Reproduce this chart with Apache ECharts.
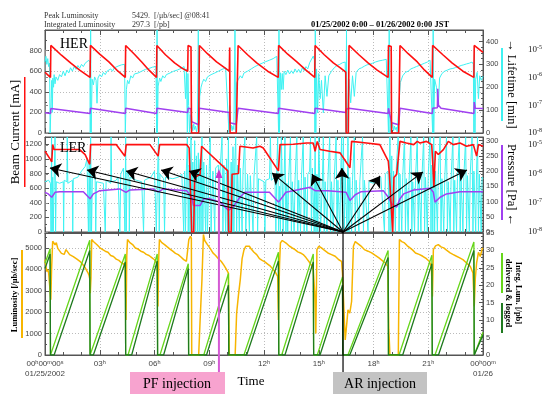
<!DOCTYPE html>
<html><head><meta charset="utf-8">
<script src="https://cdn.jsdelivr.net/npm/echarts@6/dist/echarts.min.js"></script>
<style>html,body{margin:0;padding:0;background:#fff}#c{width:549px;height:394px}</style>
</head><body><div id="c"></div>
<script>
// ---------------- data (hours since 01/25/2002 0:00) ----------------
const herCurrent = [[0,590],[0.15,565],[0.3,540],[0.32,850],[0.9,755],[1.4,680],[1.9,610],[2.47,540],[2.49,850],[3.0,765],[3.5,690],[4.0,600],[4.4,540],[4.42,850],[4.9,765],[5.3,690],[5.7,610],[6.11,540],[6.13,850],[6.6,760],[7.1,680],[7.5,630],[7.82,600],[7.84,850],[8.0,835],[8.03,0],[8.42,0],[8.46,850],[8.9,770],[9.4,690],[9.8,640],[10.1,600],[10.12,830],[10.14,0],[10.48,0],[10.58,850],[11.1,760],[11.6,680],[12.2,600],[12.78,540],[12.8,850],[13.3,765],[13.8,690],[14.3,610],[14.78,540],[14.8,850],[15.3,760],[15.8,680],[16.2,630],[16.48,590],[16.5,0],[16.62,0],[16.66,850],[17.2,760],[17.7,680],[18.2,610],[18.8,540],[18.82,850],[18.97,840],[18.99,0],[19.38,0],[19.45,850],[19.9,770],[20.4,690],[20.8,610],[21.22,540],[21.24,850],[21.8,760],[22.3,680],[22.9,600],[23.5,540],[23.52,850],[24,783]];
const herPressure = [[0,196],[0.3,190],[0.32,238],[2.47,190],[2.49,240],[4.4,190],[4.42,240],[6.11,190],[6.13,240],[7.82,200],[7.84,240],[8.0,235],[8.03,110],[8.42,80],[8.46,240],[10.1,200],[10.12,100],[10.48,85],[10.58,240],[12.78,190],[12.8,240],[14.78,190],[14.8,240],[16.48,200],[16.5,230],[16.66,240],[18.8,190],[18.82,240],[18.99,100],[19.38,80],[19.45,240],[21.22,190],[21.24,240],[21.5,245],[21.52,430],[21.56,270],[21.7,240],[23.5,190],[23.52,300],[23.58,240],[24,238]];
const herLifetime = [[0,310],[0.05,335],[0.1,300],[0.15,325],[0.2,290],[0.25,305],[0.28,0],[0.31,0],[0.34,150],[0.37,230],[0.4,90],[0.43,240],[0.47,200],[0.5,255],[0.55,215],[0.6,245],[0.7,230],[0.8,255],[0.9,245],[1.0,270],[1.1,250],[1.2,275],[1.3,262],[1.4,285],[1.5,270],[1.6,290],[1.7,278],[1.8,295],[1.9,283],[2.0,300],[2.1,290],[2.2,305],[2.3,298],[2.4,318],[2.46,308],[2.48,0],[2.5,450],[2.53,0],[2.58,235],[2.65,210],[2.72,245],[2.8,230],[2.85,130],[2.9,240],[3.0,255],[3.1,245],[3.2,265],[3.3,255],[3.4,270],[3.5,262],[3.6,280],[3.7,270],[3.8,285],[3.9,278],[4.0,292],[4.1,285],[4.2,298],[4.3,290],[4.36,300],[4.4,0],[4.43,0],[4.46,190],[4.52,230],[4.6,215],[4.7,250],[4.8,240],[4.9,258],[5.0,250],[5.1,262],[5.2,255],[5.3,270],[5.4,262],[5.5,278],[5.6,270],[5.7,282],[5.8,276],[5.9,288],[6.0,282],[6.08,290],[6.12,0],[6.14,450],[6.16,0],[6.2,205],[6.28,240],[6.35,225],[6.45,250],[6.55,240],[6.65,255],[6.75,248],[6.85,262],[6.95,255],[7.05,270],[7.15,262],[7.25,275],[7.35,268],[7.45,282],[7.55,276],[7.62,290],[7.7,150],[7.75,280],[7.8,0],[7.83,260],[7.87,120],[7.92,0],[7.96,80],[8.0,20],[8.05,35],[8.1,10],[8.15,40],[8.2,15],[8.25,30],[8.3,5],[8.35,25],[8.4,450],[8.44,0],[8.48,160],[8.55,200],[8.62,220],[8.7,235],[8.8,225],[8.9,245],[9.0,240],[9.1,255],[9.2,250],[9.3,262],[9.4,256],[9.5,270],[9.6,265],[9.7,278],[9.8,272],[9.9,285],[10.0,290],[10.08,0],[10.12,120],[10.16,20],[10.2,35],[10.25,10],[10.3,30],[10.35,15],[10.41,450],[10.45,0],[10.5,220],[10.6,235],[10.7,250],[10.8,240],[10.9,262],[11.0,255],[11.1,270],[11.2,262],[11.3,280],[11.4,274],[11.5,290],[11.6,283],[11.7,298],[11.8,292],[11.9,305],[12.0,298],[12.1,312],[12.2,305],[12.3,318],[12.4,312],[12.5,325],[12.6,320],[12.7,335],[12.77,330],[12.8,0],[12.82,450],[12.85,0],[12.9,263],[12.95,190],[13.0,260],[13.05,190],[13.1,270],[13.2,255],[13.3,275],[13.4,258],[13.5,272],[13.6,260],[13.7,280],[13.8,265],[13.9,278],[14.0,262],[14.1,285],[14.2,272],[14.3,290],[14.4,280],[14.5,307],[14.6,300],[14.7,336],[14.76,320],[14.79,0],[14.81,450],[14.84,0],[14.88,280],[14.94,88],[15.0,260],[15.08,150],[15.15,230],[15.25,88],[15.35,250],[15.45,160],[15.55,250],[15.7,270],[15.85,285],[16.0,295],[16.15,300],[16.3,307],[16.45,310],[16.5,0],[16.52,450],[16.55,0],[16.65,235],[16.75,132],[16.85,250],[16.95,160],[17.05,265],[17.2,280],[17.35,285],[17.5,292],[17.65,298],[17.8,300],[17.95,305],[18.1,310],[18.3,315],[18.5,318],[18.7,322],[18.78,320],[18.82,0],[18.86,450],[18.9,0],[18.95,60],[19.0,20],[19.05,40],[19.1,10],[19.15,30],[19.2,15],[19.25,25],[19.3,5],[19.4,0],[19.47,220],[19.6,250],[19.75,265],[19.9,270],[20.05,280],[20.2,285],[20.35,290],[20.5,295],[20.65,300],[20.8,305],[20.95,310],[21.1,318],[21.2,322],[21.24,0],[21.27,450],[21.3,0],[21.35,235],[21.45,200],[21.55,116],[21.62,240],[21.75,260],[21.9,270],[22.05,275],[22.2,280],[22.35,282],[22.5,286],[22.65,290],[22.8,295],[22.95,298],[23.1,302],[23.25,305],[23.4,310],[23.47,300],[23.5,0],[23.53,380],[23.56,0],[23.6,235],[23.68,265],[23.75,150],[23.82,250],[23.9,230],[24,248]];

const lerCurrent = [[0,1105],[0.3,990],[0.37,960],[0.42,1196],[0.5,1130],[0.6,1120],[1.9,1128],[2.2,1060],[2.45,926],[2.5,1196],[3.9,1196],[4.38,1038],[4.45,1196],[5.75,1196],[6.2,1038],[6.28,1196],[7.76,1196],[7.9,1150],[8.0,1150],[8.04,0],[8.15,0],[8.2,745],[8.5,790],[8.58,1173],[10.02,836],[10.06,0],[10.2,0],[10.25,790],[10.6,800],[10.68,1173],[11.4,1150],[11.78,1173],[11.96,1150],[12.79,836],[12.88,1196],[13.6,1200],[14.34,1217],[14.7,1217],[14.8,1105],[14.92,1240],[15.07,1128],[15.6,1105],[16.17,1083],[16.71,880],[16.8,1240],[17.62,1217],[18.35,1196],[18.81,971],[18.87,791],[18.94,813],[19.05,0],[19.12,745],[19.27,791],[19.45,1240],[19.8,1217],[20.2,1196],[20.4,1240],[20.55,1217],[20.9,1240],[21.19,1196],[21.24,971],[21.31,611],[21.39,1105],[21.55,1060],[21.83,1128],[22.1,1240],[22.37,1196],[22.74,1217],[23.1,1173],[23.47,1196],[23.65,1038],[23.75,1196],[24,1173]];
const lerPressure = [[0,543],[0.18,521],[0.37,476],[0.55,543],[0.8,550],[2.1,550],[2.47,454],[2.65,521],[3.0,566],[4.1,589],[4.44,543],[4.65,575],[5.9,589],[6.2,550],[6.5,589],[7.76,566],[8.04,476],[8.13,364],[8.5,364],[8.7,454],[9.0,454],[9.6,409],[10.05,297],[10.3,341],[10.68,476],[10.96,543],[11.6,543],[12.3,543],[12.79,409],[13.0,476],[13.2,543],[13.8,575],[14.52,611],[14.8,566],[15.5,566],[16.5,543],[16.71,431],[17.0,510],[17.3,550],[18.54,566],[18.81,476],[19.0,386],[19.27,341],[19.45,454],[19.65,521],[20.2,575],[21.1,600],[21.28,543],[21.37,409],[21.65,476],[22.0,521],[22.74,550],[24,550]];
const lerLifetime = [[0,165],[0.1,160],[0.2,170],[0.3,160],[0.33,0],[0.36,312],[0.39,0],[0.42,180],[0.45,0],[0.5,170],[0.55,312],[0.58,0],[0.62,165],[0.8,160],[1.0,165],[1.02,0],[1.05,170],[1.2,165],[1.22,312],[1.25,160],[1.5,170],[1.52,0],[1.55,175],[1.8,180],[2.0,200],[2.2,215],[2.3,240],[2.38,0],[2.42,230],[2.47,0],[2.5,312],[2.55,0],[2.6,200],[2.75,170],[2.78,0],[2.82,165],[3.2,160],[3.3,0],[3.35,170],[3.6,160],[3.62,312],[3.65,165],[3.9,170],[4.0,180],[4.1,0],[4.15,190],[4.3,210],[4.38,0],[4.42,312],[4.45,0],[4.5,200],[4.6,180],[4.62,0],[4.66,180],[5.0,170],[5.3,165],[5.4,0],[5.45,170],[5.8,180],[6.0,200],[6.1,0],[6.18,220],[6.22,312],[6.26,0],[6.3,190],[6.5,175],[6.55,0],[6.6,180],[7.0,175],[7.3,180],[7.5,190],[7.6,0],[7.65,200],[7.7,0],[7.75,210],[7.8,312],[7.85,0],[7.9,220],[7.95,0],[8.0,312],[8.05,0],[8.1,230],[8.15,0],[8.2,300],[8.25,0],[8.3,250],[8.35,0],[8.4,260],[8.45,0],[8.5,240],[8.55,0],[8.6,312],[8.65,0],[8.7,230],[8.8,0],[8.85,220],[8.9,0],[9.0,210],[9.05,312],[9.1,0],[9.2,200],[9.3,0],[9.35,210],[9.5,220],[9.55,0],[9.6,210],[9.7,312],[9.75,0],[9.8,220],[9.9,0],[9.95,240],[10.0,0],[10.05,312],[10.1,0],[10.2,230],[10.25,0],[10.3,280],[10.35,0],[10.4,230],[10.45,312],[10.5,0],[10.55,220],[10.65,0],[10.7,210],[10.8,0],[10.85,200],[10.95,312],[11.0,0],[11.1,190],[11.2,0],[11.25,185],[11.4,0],[11.45,180],[11.6,312],[11.65,0],[11.7,175],[11.8,170],[12.0,165],[12.05,0],[12.1,170],[12.3,175],[12.35,312],[12.4,170],[12.6,180],[12.65,0],[12.7,200],[12.75,312],[12.8,0],[12.85,150],[12.9,0],[12.95,312],[13.0,160],[13.05,0],[13.1,170],[13.15,312],[13.2,0],[13.25,160],[13.3,0],[13.35,170],[13.45,312],[13.5,0],[13.55,165],[13.65,0],[13.7,170],[13.8,312],[13.85,0],[13.9,170],[14.0,0],[14.05,175],[14.15,312],[14.2,0],[14.25,180],[14.35,0],[14.4,190],[14.5,200],[14.55,312],[14.6,0],[14.65,210],[14.75,0],[14.8,312],[14.85,0],[14.9,190],[14.95,0],[15.0,312],[15.05,180],[15.1,0],[15.2,170],[15.25,312],[15.3,0],[15.35,165],[15.45,0],[15.5,170],[15.6,312],[15.65,0],[15.7,165],[15.8,0],[15.85,175],[15.95,312],[16.0,0],[16.05,170],[16.15,0],[16.2,180],[16.25,312],[16.3,0],[16.35,312],[16.4,0],[16.45,190],[16.55,0],[16.6,312],[16.65,0],[16.7,180],[16.8,0],[16.85,170],[16.95,312],[17.0,0],[17.05,170],[17.2,0],[17.25,165],[17.4,312],[17.45,0],[17.5,170],[17.7,0],[17.75,165],[18.0,160],[18.2,170],[18.4,180],[18.6,0],[18.65,190],[18.8,200],[18.85,0],[18.9,312],[18.95,0],[19.0,250],[19.05,0],[19.1,200],[19.2,0],[19.25,210],[19.35,312],[19.4,0],[19.45,190],[19.55,0],[19.6,180],[19.7,312],[19.75,0],[19.8,175],[19.9,0],[19.95,170],[20.05,312],[20.1,0],[20.15,165],[20.25,0],[20.3,170],[20.4,312],[20.45,0],[20.5,170],[20.6,0],[20.65,175],[20.75,312],[20.8,0],[20.85,180],[20.95,0],[21.0,190],[21.1,312],[21.15,0],[21.2,220],[21.25,0],[21.3,312],[21.35,0],[21.4,200],[21.5,0],[21.55,190],[21.65,312],[21.7,0],[21.75,175],[21.85,0],[21.9,170],[22.0,312],[22.05,0],[22.1,165],[22.2,0],[22.25,170],[22.35,312],[22.4,0],[22.45,170],[22.55,0],[22.6,175],[22.7,312],[22.75,0],[22.8,175],[22.9,0],[22.95,180],[23.05,312],[23.1,0],[23.15,185],[23.25,0],[23.3,190],[23.4,312],[23.45,0],[23.5,200],[23.6,0],[23.65,210],[23.7,312],[23.75,0],[23.8,190],[23.9,0],[23.95,180],[24,175]];

const luminosity = [[0,4456],[0.05,4150],[0.1,3900],[0.15,4000],[0.2,3830],[0.25,3900],[0.28,3750],[0.32,2580],[0.36,4000],[0.42,5316],[0.48,5250],[0.55,5150],[0.62,5250],[0.7,4980],[0.8,4900],[0.9,4750],[1.0,4800],[1.05,4700],[1.15,4925],[1.25,4850],[1.35,4690],[1.45,4720],[1.55,4600],[1.65,4640],[1.75,4480],[1.85,4520],[1.95,4350],[2.05,4380],[2.15,4150],[2.25,4100],[2.35,3850],[2.42,3700],[2.46,3518],[2.48,2890],[2.52,3600],[2.56,5394],[2.65,5300],[2.75,5238],[2.85,5150],[2.95,5080],[3.05,4980],[3.15,5000],[3.3,4850],[3.45,4800],[3.6,4650],[3.75,4600],[3.9,4480],[4.05,4420],[4.2,4300],[4.32,4250],[4.4,4100],[4.44,1640],[4.48,4600],[4.52,5394],[4.65,5250],[4.8,5159],[4.95,5000],[5.1,4950],[5.25,4850],[5.4,4800],[5.55,4700],[5.7,4650],[5.85,4550],[6.0,4450],[6.1,4377],[6.15,4221],[6.19,2270],[6.23,4500],[6.27,5394],[6.4,5250],[6.55,5159],[6.7,5050],[6.85,4950],[7.0,4850],[7.15,4750],[7.3,4690],[7.45,4580],[7.6,4456],[7.75,4380],[7.84,4300],[7.88,5394],[7.97,5550],[8.02,5450],[8.04,0],[8.42,0],[8.5,1640],[8.6,3520],[8.68,5630],[8.75,5350],[8.9,5159],[9.05,4980],[9.2,4770],[9.35,4650],[9.5,4500],[9.65,4380],[9.8,4200],[9.95,3987],[10.05,3830],[10.1,0],[10.42,0],[10.5,1950],[10.6,2800],[10.7,3520],[10.8,4500],[10.9,4900],[11.0,5081],[11.1,5000],[11.2,5080],[11.3,4950],[11.45,4800],[11.6,4690],[11.75,4500],[11.9,4420],[12.05,4350],[12.2,4250],[12.35,4150],[12.5,4000],[12.65,3830],[12.75,3674],[12.79,1640],[12.85,4200],[12.9,5238],[13.0,5350],[13.1,5316],[13.25,5200],[13.4,5081],[13.55,5000],[13.7,4925],[13.85,4820],[14.0,4768],[14.15,4690],[14.3,4550],[14.45,4380],[14.6,4200],[14.7,3987],[14.78,2893],[14.84,1000],[14.9,4925],[15.0,5081],[15.15,5003],[15.3,4900],[15.5,4768],[15.7,4690],[15.9,4612],[16.1,4450],[16.25,4377],[16.3,3830],[16.35,2736],[16.45,700],[16.55,1600],[16.6,2111],[16.7,1954],[16.8,2500],[16.9,5081],[17.0,5300],[17.1,5238],[17.3,5100],[17.5,4925],[17.7,4850],[17.9,4768],[18.1,4650],[18.3,4534],[18.5,4400],[18.65,4299],[18.78,4143],[18.84,1173],[18.9,0],[19.36,0],[19.42,5394],[19.55,5300],[19.7,5238],[19.85,5100],[20.0,5003],[20.15,4900],[20.3,4768],[20.5,4700],[20.7,4612],[20.9,4500],[21.05,4377],[21.17,4143],[21.23,2736],[21.28,4925],[21.4,5100],[21.55,5159],[21.7,5050],[21.85,5003],[22.0,4900],[22.2,4768],[22.35,4700],[22.55,4612],[22.7,4550],[22.9,4456],[23.1,4300],[23.3,4143],[23.45,3830],[23.52,2267],[23.58,3600],[23.65,4299],[23.75,4800],[23.85,4600],[23.95,4950],[24,5003]];
const intDelivered = [[0,26.3],[0.28,30.5],[0.3,0],[0.37,0],[2.45,32.9],[2.47,0],[2.56,0],[4.4,29],[4.42,0],[4.55,0],[6.15,29],[6.17,0],[6.3,0],[7.85,26.2],[7.87,0],[8.7,0],[10.05,23.4],[10.07,0],[10.9,0],[12.79,29.5],[12.81,0],[12.97,0],[14.7,29],[14.72,0],[14.92,0],[16.3,22.4],[16.32,0],[16.6,0],[18.8,30],[18.82,0],[19.4,0],[21.2,28.6],[21.22,0],[21.37,0],[23.5,32.4],[23.52,0],[23.56,0],[24,6.5]];
const intLogged = [[0,24.8],[0.28,29],[0.3,0],[0.5,0],[2.45,30],[2.47,0],[2.65,0],[4.4,26.7],[4.42,0],[4.75,0],[6.15,27],[6.17,0],[6.5,0],[7.85,24.8],[7.87,0],[8.85,0],[10.05,20],[10.07,0],[11.05,0],[12.79,27],[12.81,0],[13.15,0],[14.7,26.7],[14.72,0],[15.07,0],[16.3,20],[16.32,0],[16.7,0],[18.8,28],[18.82,0],[19.6,0],[21.2,26.2],[21.22,0],[21.56,0],[23.5,30],[23.52,0],[23.6,0],[24,5.7]];

// annotations (data units: hours, LER current mA)
const arSource = [16.33, 0];
const arTargetHours = [0.27,2.3,4.44,6.36,7.89,12.44,14.63,16.27,18.36,20.71,23.12];
const arTargetValues = [876,849,836,849,836,809,795,876,768,822,849];
const pfHour = 9.53;
const pfTipValue = 863;

// tick label texts
const startLabel = '00{s|h}00{s|m}00{s|s}\n01/25/2002';
const endLabel = '00{s|h}00{s|m}\n01/26';

// ---------------- chart ----------------
const chart = echarts.init(document.getElementById('c'), null, {renderer:'canvas'});
const AX = '#555', LBL = '#444', SANS = 'Liberation Sans', SERIF = 'Liberation Serif';
const L = 45, R = 66;

function xAx(g, pos, opts) {
  return Object.assign({
    type:'value', gridIndex:g, position:pos, min:0, max:24, interval:3,
    axisLine:{show:true, onZero:false, lineStyle:{color:AX}},
    axisTick:{show:true, inside:true, length:5, lineStyle:{color:AX}},
    minorTick:{show:true, splitNumber:3, length:3, lineStyle:{color:AX}},
    axisLabel:{show:false},
    splitLine:{show:false}
  }, opts || {});
}
const dotted = {show:true, lineStyle:{color:'#bbb', type:[1,2], width:1}};
const plainNum = v => String(v);
function yAx(g, pos, max, interval, opts) {
  return Object.assign({
    type:'value', gridIndex:g, position:pos, min:0, max:max, interval:interval,
    axisLine:{show:true, onZero:false, lineStyle:{color:AX}},
    axisTick:{show:true, inside:true, length:4, lineStyle:{color:AX}},
    minorTick:{show:true, splitNumber:2, length:2, lineStyle:{color:AX}},
    axisLabel:{show:true, fontSize:7.5, color:LBL, fontFamily:SANS, margin:3, showMaxLabel:false, formatter:plainNum},
    splitLine:{show:false}
  }, opts || {});
}
const logLabel = {
  show:true, margin:3, fontSize:9, fontFamily:SERIF, color:'#222',
  formatter: v => '10{e|' + Math.round(Math.log10(v)) + '}',
  rich:{e:{fontSize:6, fontFamily:SERIF, color:'#222', verticalAlign:'top', lineHeight:12}}
};
function logAx(g) {
  return {type:'log', logBase:10, gridIndex:g, position:'right', offset:42, min:1e-8, max:1e-5,
    axisLine:{show:true, lineStyle:{color:'#888'}},
    axisTick:{show:true, inside:false, length:3, lineStyle:{color:'#888'}},
    minorTick:{show:false}, splitLine:{show:false}, axisLabel:logLabel};
}

const lineBase = {type:'line', showSymbol:false, symbol:'none', silent:true};

const option = {
  animation:false,
  backgroundColor:'#fff',
  grid:[
    {left:L, right:R, top:30, height:103, show:true, borderColor:AX, borderWidth:1},
    {left:L, right:R, top:137, height:95, show:true, borderColor:AX, borderWidth:1},
    {left:L, right:R, top:233, height:122, show:true, borderColor:AX, borderWidth:1},
    {left:L, right:R, top:50, height:83},
    {left:L, right:R, top:145, height:87}
  ],
  xAxis:[
    xAx(0,'bottom',{splitLine:dotted}),
    xAx(0,'top'),
    xAx(1,'bottom',{splitLine:dotted}),
    xAx(1,'top'),
    xAx(2,'bottom',{splitLine:dotted, axisLabel:{
      show:true, fontSize:8, color:LBL, fontFamily:SANS, margin:4, lineHeight:10,
      formatter: v => v === 0 ? startLabel : (v === 24 ? endLabel : String(v).padStart(2,'0') + '{s|h}'),
      rich:{s:{fontSize:5.5, fontFamily:SANS, color:LBL, verticalAlign:'top', lineHeight:10}}
    }}),
    xAx(2,'top'),
    {type:'value', gridIndex:3, min:0, max:24, show:false},
    {type:'value', gridIndex:4, min:0, max:24, show:false}
  ],
  yAxis:[
    yAx(0,'left',1000,200,{splitLine:dotted}),
    yAx(0,'right',450,100,{minorTick:{show:true, splitNumber:4, length:2, lineStyle:{color:AX}}}),
    yAx(1,'left',1300,200,{splitLine:dotted}),
    yAx(1,'right',312,50,{minorTick:{show:true, splitNumber:5, length:2, lineStyle:{color:AX}}}),
    yAx(2,'left',5700,1000,{splitLine:dotted}),
    yAx(2,'right',35,5,{axisLabel:{show:true, fontSize:7.5, color:LBL, fontFamily:SANS, margin:3, formatter:plainNum}, minorTick:{show:true, splitNumber:5, length:2, lineStyle:{color:AX}}}),
    logAx(3),
    logAx(4)
  ],
  series:[
    Object.assign({}, lineBase, {name:'HER lifetime', xAxisIndex:0, yAxisIndex:1, data:herLifetime, lineStyle:{color:'#3ef2f2', width:1}}),
    Object.assign({}, lineBase, {name:'HER pressure', xAxisIndex:0, yAxisIndex:0, data:herPressure, lineStyle:{color:'#a040f0', width:1.5}}),
    Object.assign({}, lineBase, {name:'HER current', xAxisIndex:0, yAxisIndex:0, data:herCurrent, lineStyle:{color:'#ff1010', width:1.6}}),
    Object.assign({}, lineBase, {name:'LER lifetime', xAxisIndex:2, yAxisIndex:3, data:lerLifetime, lineStyle:{color:'#3ef2f2', width:1}}),
    Object.assign({}, lineBase, {name:'LER pressure', xAxisIndex:2, yAxisIndex:2, data:lerPressure, lineStyle:{color:'#a040f0', width:1.5}}),
    Object.assign({}, lineBase, {name:'LER current', xAxisIndex:2, yAxisIndex:2, data:lerCurrent, lineStyle:{color:'#ff1010', width:1.6},
      markLine:{silent:true, symbol:['none','arrow'], symbolSize:11, label:{show:false}, z:10,
        lineStyle:{color:'#000', width:1.1, type:'solid'}, emphasis:{disabled:true},
        data: arTargetHours.map((h,i) => [{coord:[arSource[0], arSource[1]]},{coord:[h, arTargetValues[i]]}])}}),
    Object.assign({}, lineBase, {name:'Luminosity', xAxisIndex:4, yAxisIndex:4, data:luminosity, lineStyle:{color:'#f7b500', width:1.5}}),
    Object.assign({}, lineBase, {name:'Delivered', xAxisIndex:4, yAxisIndex:5, data:intDelivered, lineStyle:{color:'#66d61a', width:1.3}}),
    Object.assign({}, lineBase, {name:'Logged', xAxisIndex:4, yAxisIndex:5, data:intLogged, lineStyle:{color:'#1f7a1f', width:1.3}})
  ]
};
chart.setOption(option);

// annotation geometry derived from data via the chart's own scales
const LER_CUR = 5;
const src = chart.convertToPixel({seriesIndex:LER_CUR}, arSource);
const pfTip = chart.convertToPixel({seriesIndex:LER_CUR}, [pfHour, pfTipValue]);
const boxTop = 372;

function txt(x, y, text, font, fill, align, rot) {
  return {type:'text', x:x, y:y, rotation:rot || 0, silent:true, z:100,
    style:{text:text, font:font, fill:fill || '#000', align:align || 'left', verticalAlign:'middle'}};
}
function rect(x, y, w, h, fill, z) {
  return {type:'rect', silent:true, z:z || 90, shape:{x:x, y:y, width:w, height:h}, style:{fill:fill}};
}

chart.setOption({graphic:[
  txt(44, 16, 'Peak Luminosity', '8px "Liberation Serif"', '#333'),
  txt(44, 24.5, 'Integrated Luminosity', '8px "Liberation Serif"', '#333'),
  txt(132, 16, '5429.  [/\u03bcb/sec] @08:41', '8px "Liberation Serif"', '#333'),
  txt(132, 24.5, '297.3  [/pb]', '8px "Liberation Serif"', '#333'),
  txt(311, 25, '01/25/2002 0:00 \u2013 01/26/2002 0:00 JST', 'bold 8.5px "Liberation Serif"', '#000'),
  txt(60, 44, 'HER', '14px "Liberation Serif"', '#000'),
  txt(60, 148, 'LER', '14px "Liberation Serif"', '#000'),
  // left titles
  txt(16, 132, 'Beam Current [mA]', '13px "Liberation Serif"', '#000', 'center', Math.PI/2),
  rect(24, 77, 1.5, 110, '#ff1010'),
  txt(15, 295, 'Luminosity [/\u03bcb/sec]', 'bold 8.5px "Liberation Serif"', '#000', 'center', Math.PI/2),
  rect(21, 250, 2, 88, '#f7b500'),
  // right titles
  txt(511, 84, '\u2192 Lifetime [min]', '12.5px "Liberation Serif"', '#000', 'center', -Math.PI/2),
  rect(501, 48, 2, 73, '#3ef2f2'),
  txt(511, 185, 'Pressure [Pa] \u2190', '12.5px "Liberation Serif"', '#000', 'center', -Math.PI/2),
  rect(501, 145, 2, 75, '#a040f0'),
  txt(518, 293, 'Integ. Lum. [/pb]', 'bold 8.5px "Liberation Serif"', '#000', 'center', -Math.PI/2),
  txt(508, 293, 'delivered & logged', 'bold 8.5px "Liberation Serif"', '#000', 'center', -Math.PI/2),
  rect(501, 253, 2, 40, '#66d61a'),
  rect(501, 303, 2, 30, '#1f7a1f'),
  // Time label
  txt(251, 382, 'Time', '13px "Liberation Serif"', '#000', 'center'),
  // PF injection
  {type:'line', silent:true, z:80, shape:{x1:pfTip[0], y1:pfTip[1]+6, x2:pfTip[0], y2:boxTop}, style:{stroke:'#d45ad4', lineWidth:2}},
  {type:'polygon', silent:true, z:81, shape:{points:[[pfTip[0], pfTip[1]],[pfTip[0]-3.5, pfTip[1]+9],[pfTip[0]+3.5, pfTip[1]+9]]}, style:{fill:'#cc33cc'}},
  rect(130, boxTop, 95, 22, '#f7a3cf'),
  txt(177, 384, 'PF injection', '14px "Liberation Serif"', '#000', 'center'),
  // AR injection
  {type:'line', silent:true, z:80, shape:{x1:src[0], y1:src[1], x2:src[0], y2:boxTop}, style:{stroke:'#000', lineWidth:1.2}},
  rect(333, boxTop, 94, 22, '#c3c3c3'),
  txt(380, 384, 'AR injection', '14px "Liberation Serif"', '#000', 'center')
]});
</script>
</body></html>
